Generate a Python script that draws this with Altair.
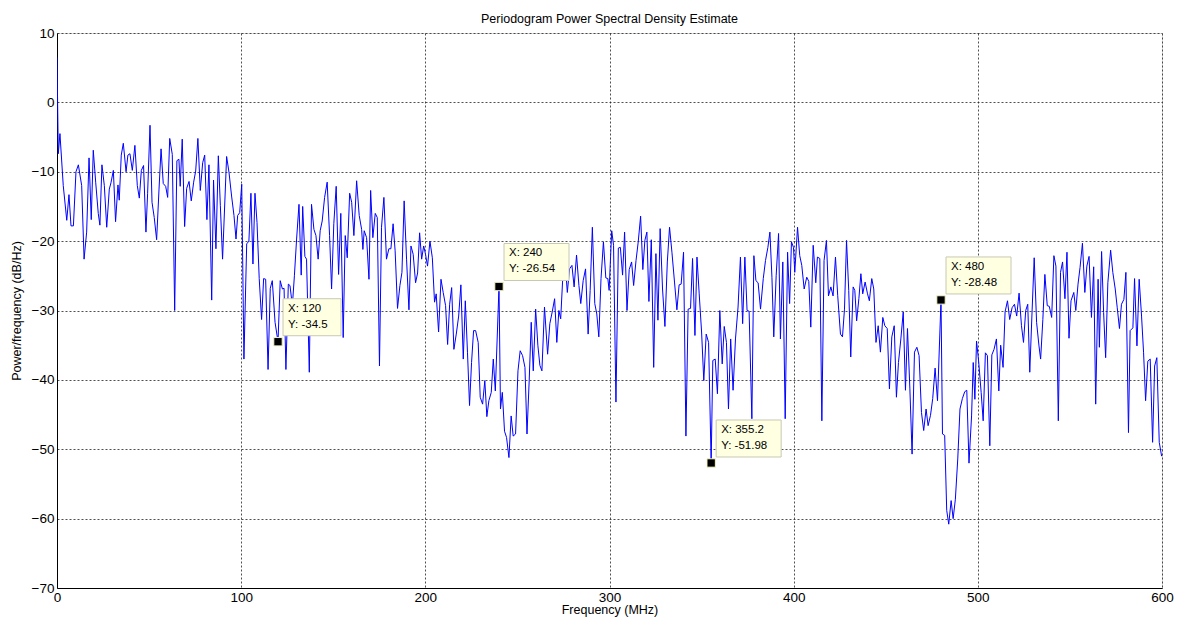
import altair as alt
import pandas as pd

# ---- data (Frequency in MHz, PSD in dB/Hz) ----
freq = [0.0, 0.7, 1.6, 3.4, 5.3, 6.5, 7.6, 8.9, 10.3, 11.6, 13.4, 14.7, 16.1, 17.4, 18.6, 19.7, 21.0, 22.4, 23.3, 24.4,
        25.7, 27.0, 28.4, 29.3, 30.6, 31.8, 33.1, 33.8, 34.9, 36.0, 37.5, 38.5, 39.6, 40.9, 42.3, 43.6, 44.7, 45.8, 47.0, 48.3,
        49.2, 50.5, 51.6, 52.8, 54.1, 55.4, 56.5, 57.7, 59.0, 60.1, 61.2, 62.6, 63.9, 65.1, 66.2, 66.9, 68.0, 69.3, 70.4, 71.7,
        72.9, 74.2, 75.3, 76.5, 77.8, 79.1, 80.2, 81.4, 82.5, 84.0, 85.0, 86.3, 87.6, 88.7, 89.9, 92.1, 93.4, 94.8, 96.1, 97.2,
        98.1, 99.2, 100.3, 101.5, 103.0, 104.2, 105.3, 106.4, 107.5, 108.6, 109.8, 111.1, 112.2, 113.3, 114.6, 115.8, 116.9, 118.4, 120.0, 121.2,
        122.4, 123.3, 124.3, 125.6, 126.5, 127.8, 128.9, 130.1, 131.4, 132.6, 133.4, 134.6, 135.5, 137.0, 138.2, 139.5, 140.6, 141.8, 142.9, 144.0,
        145.3, 146.7, 148.0, 149.1, 150.3, 151.6, 152.9, 154.1, 155.4, 156.5, 157.6, 158.9, 160.0, 161.2, 162.7, 164.1, 165.4, 166.1, 166.8, 168.1,
        169.4, 170.3, 171.5, 172.8, 173.9, 175.1, 176.2, 177.5, 178.9, 180.2, 181.3, 182.5, 183.6, 184.9, 186.2, 187.3, 188.5, 189.8, 191.1, 192.2,
        193.4, 194.7, 195.8, 196.9, 198.0, 199.1, 200.1, 201.2, 202.5, 203.8, 205.0, 205.9, 207.2, 208.5, 209.7, 211.0, 212.1, 213.2, 214.3, 215.5,
        216.8, 218.1, 219.3, 220.6, 221.7, 222.9, 224.0, 225.1, 226.2, 227.3, 228.7, 229.8, 231.1, 232.3, 233.4, 234.5, 235.8, 236.9, 238.0, 240.0,
        240.8, 241.8, 243.0, 244.1, 245.4, 246.6, 247.7, 249.0, 250.3, 251.5, 252.8, 254.1, 255.2, 256.4, 257.5, 258.6, 259.9, 261.1, 262.2, 263.3,
        264.7, 266.4, 267.6, 268.9, 270.2, 271.4, 272.5, 273.5, 274.5, 275.8, 277.1, 278.3, 279.6, 280.8, 282.1, 283.4, 284.4, 285.7, 287.0, 288.4,
        289.5, 290.7, 292.0, 293.1, 294.2, 295.4, 296.7, 298.0, 299.1, 299.8, 301.2, 302.2, 303.5, 304.8, 305.9, 307.1, 308.2, 309.5, 310.7, 312.0,
        313.1, 314.4, 315.6, 316.9, 318.1, 319.2, 320.3, 321.4, 322.7, 324.0, 325.2, 326.3, 327.5, 328.8, 330.1, 331.4, 332.6, 333.9, 335.3, 336.6,
        337.8, 338.9, 340.2, 341.5, 342.7, 344.0, 345.1, 346.4, 347.5, 348.7, 350.0, 351.2, 352.5, 353.8, 355.2, 356.1, 357.4, 358.6, 359.9, 361.2,
        362.3, 363.5, 364.6, 365.8, 367.1, 368.4, 369.8, 371.1, 372.3, 373.5, 374.7, 375.8, 377.3, 378.4, 379.5, 380.7, 382.0, 383.5, 384.7, 386.0,
        387.1, 388.2, 389.2, 390.5, 391.8, 392.8, 394.1, 395.4, 396.7, 397.8, 398.8, 399.9, 400.6, 402.1, 403.3, 404.4, 405.7, 407.1, 408.2, 409.3,
        410.6, 412.0, 412.9, 414.2, 415.3, 416.5, 417.8, 418.9, 420.2, 421.4, 422.7, 423.9, 425.4, 426.5, 427.6, 428.7, 429.9, 431.0, 432.3, 433.2,
        434.2, 435.4, 436.5, 437.5, 438.8, 440.1, 441.1, 442.4, 443.5, 444.7, 445.9, 447.1, 448.4, 449.5, 450.8, 452.0, 453.3, 454.6, 455.8, 456.9,
        458.2, 459.5, 460.7, 461.8, 463.1, 464.3, 465.6, 466.9, 468.1, 469.4, 470.6, 471.9, 473.0, 474.3, 475.5, 476.8, 478.1, 480.0, 480.8, 482.0,
        483.1, 484.2, 485.5, 486.6, 487.8, 489.1, 490.3, 491.6, 492.9, 494.0, 495.2, 496.6, 497.5, 498.4, 499.3, 500.5, 501.8, 502.9, 504.1, 505.2,
        506.5, 507.6, 508.8, 510.1, 511.4, 512.4, 513.7, 514.8, 516.1, 517.3, 518.6, 519.9, 521.1, 522.4, 523.7, 524.8, 526.0, 527.1, 528.2, 529.5,
        530.6, 531.9, 533.2, 534.1, 535.3, 536.4, 537.7, 538.8, 540.1, 541.3, 542.4, 543.7, 544.9, 546.0, 547.3, 548.4, 549.5, 550.6, 552.1, 553.2,
        554.4, 555.5, 556.8, 558.1, 559.2, 560.4, 561.7, 562.9, 564.0, 565.3, 566.0, 567.2, 568.3, 569.4, 570.6, 572.1, 573.3, 574.6, 575.7, 576.9,
        578.0, 579.3, 580.4, 581.8, 582.7, 584.2, 585.1, 586.4, 587.6, 588.9, 590.0, 591.1, 592.3, 593.6, 594.9, 596.0, 597.2, 598.5, 599.8]

psd = [6.5, -7.4, -4.5, -12, -17, -13.3, -17.8, -17.8, -10, -9, -12, -22.6, -18.7, -8, -16.9, -6.9, -11.5, -16, -17.7, -9,
       -12, -18, -12.5, -11.6, -9.8, -17.2, -11.9, -14.1, -7.6, -5.9, -10, -7.6, -7.4, -9.8, -6.2, -12, -13.8, -9.8, -9.1, -18.7,
       -13.1, -3.3, -14.4, -16.6, -19.8, -12.5, -6.7, -11.7, -12.1, -13.7, -5.2, -7.5, -30, -8.4, -8.2, -12.1, -5.3, -17.9, -12.4, -11.4,
       -14.2, -11.5, -9.9, -5.2, -12.7, -8.7, -7.6, -16.9, -9, -28.5, -11.2, -21.1, -7.7, -14.9, -22.6, -7.8, -10.1, -13.5, -16.3, -19.7,
       -16.3, -15.9, -11.8, -37, -20.4, -20, -13.1, -23.3, -13.1, -17.3, -25.4, -31.3, -25.4, -25.5, -38.5, -26.8, -25.7, -31.7, -34.5, -25.7,
       -26.9, -26.8, -38.5, -26.2, -26.4, -29.3, -25, -19.7, -14.7, -24.9, -15, -22.2, -22.6, -38.9, -14.7, -18.3, -19.2, -22.6, -18.5, -17.1,
       -13.7, -11.5, -19.2, -26.9, -17.5, -12.1, -24.8, -16, -33.9, -19.2, -22.4, -13.1, -14.4, -19.2, -11.3, -16.3, -18.3, -21.2, -18.5, -19.5,
       -25.5, -12.7, -19.5, -16, -16.6, -38, -18, -13.7, -22.6, -21.1, -21.1, -17.5, -21.4, -29.7, -26.4, -24.5, -14.2, -22.6, -29.9, -20.7,
       -21.9, -26, -24.6, -18.8, -22.6, -20.7, -21.9, -23.6, -20, -22.4, -28.8, -27.6, -33.1, -25.5, -27.4, -29.3, -34.9, -29.1, -26.7, -35.6,
       -33.4, -30.8, -26.3, -37, -28.6, -36.1, -43.7, -37.5, -32.9, -32.9, -34.6, -42.5, -43.5, -40.1, -45.3, -43, -41.8, -37, -41.6, -26.54,
       -44.2, -41.8, -47.4, -48.3, -51.2, -45.2, -48.1, -47.8, -38.7, -35.8, -36.5, -38.2, -47.8, -40.1, -31.7, -38.7, -29.8, -35, -37.9, -38.7,
       -29.5, -36.3, -31.9, -30.2, -28.3, -34.6, -30, -31.2, -25.9, -22.5, -27.4, -24, -23.5, -26.6, -22, -26.4, -29, -25.7, -24, -33.4,
       -27.1, -18, -29, -30.5, -33.8, -25.4, -20.1, -25.3, -25.4, -27.1, -18.5, -20.6, -43.2, -21, -20.9, -24.9, -18.7, -30, -24.1, -23,
       -26.4, -22.8, -20.1, -16.4, -24.1, -19.9, -18.7, -28.7, -19.8, -38.2, -21.8, -31.4, -18.2, -26.9, -32.3, -23, -18, -21.6, -25.9, -29.9,
       -26.3, -26.2, -21.6, -48.1, -29.8, -29.7, -22.5, -33.6, -22.3, -27.6, -33.1, -40.1, -33.4, -34.6, -51.98, -37.2, -37, -42, -30, -37.7,
       -32.3, -34.6, -44.2, -34.1, -41.5, -34.1, -29.5, -22.3, -31.9, -22.3, -30, -30.1, -45.6, -22.1, -25.7, -26, -29.8, -25.4, -22.8, -20.9,
       -18.7, -25.2, -33.8, -25, -18.9, -34.1, -23, -45.6, -21.6, -29, -20.1, -20.9, -24.5, -18, -22.1, -23.5, -26.9, -25.2, -25.8, -32.4,
       -20.6, -26, -22.3, -22.5, -45.9, -22.8, -19.9, -27.9, -26.6, -27.9, -22.3, -27.8, -33.4, -33.8, -29.8, -19.9, -27.1, -36.7, -26.6, -27.1,
       -31.5, -28.3, -24.7, -27.6, -25.9, -27.6, -28.6, -25.4, -26.9, -34.6, -32.2, -36, -31, -32.2, -32.6, -41.3, -33.8, -32.2, -42.5, -37.5,
       -34.1, -30.2, -41.5, -32.6, -41.3, -50.7, -36, -35.3, -36.5, -44.7, -47.3, -44.2, -46.6, -45.1, -42.7, -38.3, -43, -28.48, -47.8, -48,
       -58.8, -60.8, -57.4, -60, -57.2, -51.4, -44.2, -42.7, -41.7, -41.5, -52, -45.2, -37.5, -42.8, -34.4, -37.5, -41.8, -45.9, -36.1, -36.5,
       -49.5, -36.4, -35.6, -34.1, -41.6, -35, -38.2, -30.2, -28.6, -31.3, -29.6, -29.1, -30.8, -27.5, -32.2, -34.6, -30, -29.1, -38.9, -29.8,
       -22.4, -31.7, -35.1, -37, -31.3, -24.8, -29.3, -29.4, -31, -22.1, -23.6, -45.9, -24.5, -23, -28.3, -21.6, -34, -28.6, -27.4, -30,
       -26.2, -23.8, -20.3, -27.4, -23.6, -22.2, -31, -23.7, -43.5, -25.5, -35.3, -21.5, -30.3, -36.8, -26, -21.3, -24.5, -26.9, -29.6, -32.6,
       -29.1, -28.4, -24.5, -47.6, -32.9, -32.5, -25.4, -35.1, -25.5, -30.8, -36.1, -43, -37.3, -37, -49, -38, -36.8, -49, -51]

# data tips
tip_x = [120, 240, 355.2, 480]
tip_y = [-34.5, -26.54, -51.98, -28.48]
tip_xlabel = ["X: 120", "X: 240", "X: 355.2", "X: 480"]
tip_ylabel = ["Y: -34.5", "Y: -26.54", "Y: -51.98", "Y: -28.48"]

x_ticks = [0, 100, 200, 300, 400, 500, 600]
y_ticks = [-70, -60, -50, -40, -30, -20, -10, 0, 10]

FONT = "Liberation Sans"

df = pd.DataFrame({"f": freq, "p": psd})
tips = pd.DataFrame({"x": tip_x, "y": tip_y, "lx": tip_xlabel, "ly": tip_ylabel})

xscale = alt.Scale(domain=[0, 600], nice=False, zero=False)
yscale = alt.Scale(domain=[-70, 10], nice=False, zero=False)

xaxis = alt.Axis(values=x_ticks, title="Frequency (MHz)", grid=True, gridColor="#222222",
                 gridDash=[2, 2], gridWidth=0.8, domainColor="black", domainWidth=1,
                 ticks=False, labelFont=FONT, labelFontSize=13.5, labelColor="black",
                 labelPadding=2, titleFont=FONT, titleFontSize=12.5, titleFontWeight="normal",
                 titleColor="black", titlePadding=0, labelFlush=False)
yaxis = alt.Axis(values=y_ticks, title="Power/frequency (dB/Hz)", grid=True, gridColor="#222222",
                 gridDash=[2, 2], gridWidth=0.8, domainColor="black", domainWidth=1,
                 ticks=False, labelFont=FONT, labelFontSize=13.5, labelColor="black",
                 labelPadding=3, titleFont=FONT, titleFontSize=12.5, titleFontWeight="normal",
                 titleColor="black", titlePadding=8, labelFlush=False)

line = alt.Chart(df).mark_line(color="#0000FF", strokeWidth=1, clip=True).encode(
    x=alt.X("f:Q", scale=xscale, axis=xaxis),
    y=alt.Y("p:Q", scale=yscale, axis=yaxis),
)

layers = [line]
for i in range(len(tip_x)):
    one = tips.iloc[[i]]
    w = 7 * max(len(tip_xlabel[i]), len(tip_ylabel[i])) + 2
    box = alt.Chart(one).mark_rect(fill="#FFFFE1", stroke="#C8C8B4", strokeWidth=1,
                                   xOffset=5, x2Offset=5 + w, yOffset=-43, y2Offset=-6).encode(
        x=alt.X("x:Q", scale=xscale), x2="x:Q",
        y=alt.Y("y:Q", scale=yscale), y2="y:Q")
    layers.append(box)

marker = alt.Chart(tips).mark_square(size=70, color="black", filled=True, opacity=1,
                                     stroke="#F5F5C8", strokeWidth=1).encode(
    x=alt.X("x:Q", scale=xscale), y=alt.Y("y:Q", scale=yscale))
t1 = alt.Chart(tips).mark_text(align="left", baseline="middle", dx=10, dy=-33,
                               font=FONT, fontSize=11.5, color="black").encode(
    x=alt.X("x:Q", scale=xscale), y=alt.Y("y:Q", scale=yscale), text="lx:N")
t2 = alt.Chart(tips).mark_text(align="left", baseline="middle", dx=10, dy=-17,
                               font=FONT, fontSize=11.5, color="black").encode(
    x=alt.X("x:Q", scale=xscale), y=alt.Y("y:Q", scale=yscale), text="ly:N")
layers += [marker, t1, t2]

chart = alt.layer(*layers).properties(
    width=1105, height=555,
    title=alt.TitleParams("Periodogram Power Spectral Density Estimate", font=FONT, fontSize=12.5,
                          fontWeight="normal", color="black", anchor="middle", offset=1,
                          frame="group"),
    autosize=alt.AutoSizeParams(type="none"),
    padding={"left": 49, "top": 25, "right": 12, "bottom": 30},
).configure_view(stroke="black", strokeWidth=1).configure(background="white")

chart.save("out.html", embed_options={"renderer": "svg", "actions": False})
